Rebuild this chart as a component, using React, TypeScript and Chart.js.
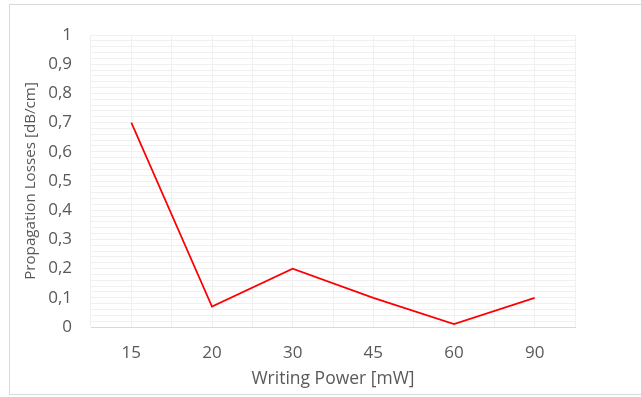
import React, { useEffect, useRef } from "react";
import { Chart, registerables } from "chart.js";

Chart.register(...registerables);

// Writing power settings (mW) and measured propagation losses (dB/cm)
const writingPower: string[] = ["15", "20", "30", "45", "60", "90"];
const propagationLosses: number[] = [0.7, 0.07, 0.2, 0.1, 0.01, 0.1];

const xAxisTitle = "Writing Power [mW]";
const yAxisTitle = "Propagation Losses [dB/cm]";

const FONT = "'Open Sans', 'DejaVu Sans', sans-serif";
const TEXT_COLOR = "#595959";
const GRID_COLOR = "#f0f0f0";

function formatTick(v: number): string {
  const r = Math.round(v * 100) / 100;
  if (Math.abs(Math.round(r * 10) - r * 10) > 1e-6) return "";
  return String(Math.round(r * 10) / 10).replace(".", ",");
}

export default function App() {
  const canvasRef = useRef<HTMLCanvasElement | null>(null);

  useEffect(() => {
    const prevMargin = document.body.style.margin;
    document.body.style.margin = "0";
    const canvas = canvasRef.current;
    if (!canvas) return;

    const chart = new Chart(canvas, {
      type: "line",
      data: {
        labels: writingPower,
        datasets: [
          {
            data: propagationLosses,
            borderColor: "#ff0000",
            backgroundColor: "#ff0000",
            borderWidth: 1.75,
            pointRadius: 0,
            tension: 0,
            fill: false,
          },
        ],
      },
      options: {
        animation: false,
        responsive: false,
        maintainAspectRatio: false,
        layout: { padding: { left: 0, right: 66, top: 35, bottom: 0 } },
        plugins: {
          legend: { display: false },
          tooltip: { enabled: false },
        },
        scales: {
          x: {
            type: "category",
            offset: true,
            afterFit: (scale: any) => {
              scale.height = 70;
            },
            grid: {
              offset: true,
              color: GRID_COLOR,
              lineWidth: 1,
              drawTicks: false,
            },
            border: { display: true, color: "#d9d9d9", width: 1 },
            ticks: {
              color: TEXT_COLOR,
              font: { family: FONT, size: 17 },
              padding: 15.5,
              maxRotation: 0,
            },
            title: {
              display: true,
              text: xAxisTitle,
              color: TEXT_COLOR,
              font: { family: FONT, size: 17.5 },
              padding: { top: 0, bottom: 7.5 },
            },
          },
          xMid: {
            type: "category",
            position: "top",
            offset: true,
            labels: writingPower,
            afterFit: (scale: any) => {
              scale.height = 0;
            },
            grid: {
              offset: false,
              color: GRID_COLOR,
              lineWidth: 1,
              drawTicks: false,
            },
            border: { display: false },
            ticks: { display: false },
          },
          y: {
            min: 0,
            max: 1,
            afterFit: (scale: any) => {
              scale.width = 91;
            },
            ticks: {
              stepSize: 0.02,
              autoSkip: false,
              color: TEXT_COLOR,
              font: { family: FONT, size: 17 },
              padding: 19,
              callback: (value: any) => formatTick(Number(value)),
            },
            grid: {
              color: GRID_COLOR,
              lineWidth: 1,
              drawTicks: false,
            },
            border: { display: false },
            title: {
              display: true,
              text: yAxisTitle,
              color: TEXT_COLOR,
              font: { family: FONT, size: 15.2 },
              padding: { top: 22, bottom: 0 },
            },
          },
        },
      },
    });

    return () => {
      chart.destroy();
      document.body.style.margin = prevMargin;
    };
  }, []);

  return (
    <div
      style={{
        position: "fixed",
        left: 0,
        top: 0,
        width: 641,
        height: 397,
        overflow: "hidden",
        background: "#ffffff",
      }}
    >
      <canvas
        ref={canvasRef}
        width={641}
        height={397}
        style={{ position: "absolute", left: 0, top: 0, width: 641, height: 397 }}
      />
      <div
        style={{
          position: "absolute",
          left: 9,
          top: 4,
          width: 640,
          height: 389,
          borderTop: "1px solid #d9d9d9",
          borderLeft: "1px solid #d9d9d9",
          borderBottom: "1px solid #d9d9d9",
          pointerEvents: "none",
        }}
      />
    </div>
  );
}
